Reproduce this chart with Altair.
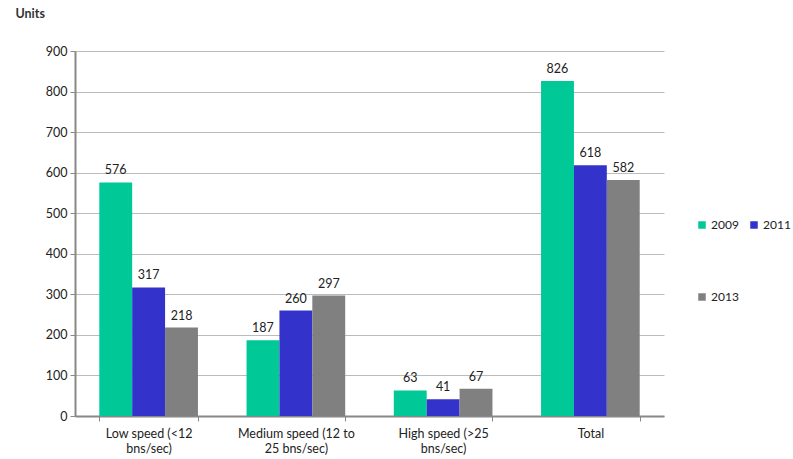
import altair as alt
import pandas as pd

categories = ["Low speed (<12|bns/sec)", "Medium speed (12 to|25 bns/sec)",
              "High  speed (>25|bns/sec)", "Total"]
years = ["2009", "2011", "2013"]
v2009 = [576, 187, 63, 826]
v2011 = [317, 260, 41, 618]
v2013 = [218, 297, 67, 582]
colors = ["#00C896", "#3333CC", "#808080"]

rows = []
for i, c in enumerate(categories):
    for y, vals in zip(years, [v2009, v2011, v2013]):
        rows.append({"category": c, "year": y, "value": vals[i]})
df = pd.DataFrame(rows)

FONT = "Lato"

x = alt.X("category:N", sort=categories, title=None,
          scale=alt.Scale(paddingInner=0.33, paddingOuter=0.165),
          axis=alt.Axis(labelAngle=0, labelExpr="split(datum.label, '|')",
                        labelFontSize=12.5, labelColor="#222", labelFont=FONT,
                        labelPadding=6, tickBand="extent", tickSize=5,
                        tickColor="#888", domainColor="#888", domainWidth=2,
                        labelLineHeight=15))
xo = alt.XOffset("year:N", sort=years)

base = alt.Chart(df).encode(x=x, xOffset=xo)

bars = base.mark_bar().encode(
    y=alt.Y("value:Q", scale=alt.Scale(domain=[0, 900]),
            axis=alt.Axis(values=list(range(0, 901, 100)), title="Units",
                          titleAngle=0, titleAlign="left", titleBaseline="top",
                          titleX=-60, titleY=-44, titleFontSize=12.5,
                          titleFontWeight="bold", titleColor="#333", titleFont=FONT,
                          labelFontSize=12.5, labelColor="#222", labelFont=FONT,
                          tickSize=5, tickColor="#888", domainColor="#888",
                          domainWidth=2, labelPadding=3,
                          gridColor="#BBBBBB", gridWidth=1.2)),
    color=alt.Color("year:N", sort=years,
                    scale=alt.Scale(domain=years, range=colors),
                    legend=alt.Legend(title=None, orient="none", legendX=621,
                                      legendY=168, columns=2, columnPadding=9,
                                      direction="horizontal",
                                      rowPadding=60, symbolType="square",
                                      symbolSize=56, symbolStrokeWidth=0,
                                      labelFontSize=12, labelFont=FONT,
                                      labelColor="#222", labelOffset=3)),
)

labels = base.mark_text(baseline="bottom", dy=-5, fontSize=12.5, font=FONT,
                        color="#222").encode(
    y="value:Q", text="value:Q")

chart = (bars + labels).properties(
    width=589, height=365,
    autosize=alt.AutoSizeParams(type="none"),
    padding={"left": 75, "top": 51, "right": 129, "bottom": 43},
).configure(background="white").configure_view(stroke=None)

chart.save("out.html", embed_options={"renderer": "svg", "actions": False})
